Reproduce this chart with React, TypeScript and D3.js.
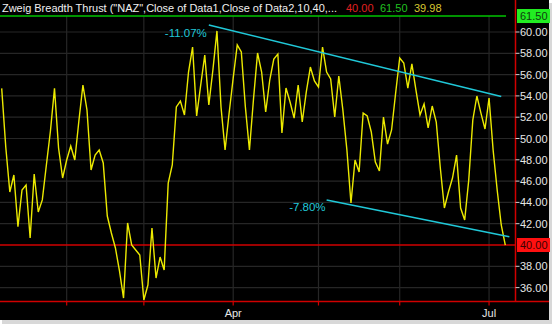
import React from "react";
import * as d3 from "d3";

// Zweig Breadth Thrust daily values (one per trading day)
const values: number[] = [
  54.71, 49.2, 44.98, 46.57, 41.72, 45.16, 45.63, 40.66, 46.67, 43.1,
  44.23, 47.51, 50.7, 54.71, 49.11, 46.29, 47.98, 49.3, 47.98, 51.64,
  55.02, 52.68, 47.04, 48.45, 48.92, 47.7, 42.72, 41.13, 39.72, 37.56,
  35.02, 42.07, 40.0, 39.53, 39.06, 34.84, 36.24, 41.6, 36.9, 38.87,
  37.65, 45.82, 47.51, 52.96, 53.52, 52.21, 56.24, 58.59, 52.11, 55.02,
  57.84, 53.15, 56.43, 60.1, 52.96, 48.92, 52.39, 55.68, 58.78, 58.12,
  52.96, 48.92, 53.71, 58.03, 56.24, 52.49, 55.49, 57.46, 57.93, 50.52,
  54.74, 53.43, 51.92, 55.02, 51.55, 54.37, 56.71, 55.4, 54.84, 58.59,
  56.24, 55.59, 52.02, 55.87, 52.68, 48.92, 43.94, 47.98, 46.85, 52.39,
  52.11, 50.61, 47.79, 46.95, 52.02, 49.48, 50.8, 54.27, 57.56, 57.09,
  54.74, 57.0, 54.55, 52.21, 53.24, 50.99, 53.05, 51.55, 47.23, 43.47,
  44.98, 46.29, 48.45, 43.47, 42.35, 46.1, 51.74, 53.99, 52.39, 50.89,
  53.8, 48.92, 45.16, 41.88, 39.98,
];

const priceTicks: number[] = [60, 58, 56, 54, 52, 50, 48, 46, 44, 42, 38, 36];
const gridLevels: number[] = [60, 58, 56, 54, 52, 50, 48, 46, 44, 42, 38, 36];
const monthTickIndex: number[] = [16, 35, 57, 78, 98, 120];
const monthTickLabel: string[] = ["", "", "Apr", "", "", "Jul"];

const lowerLevel = 40.0;
const upperLevel = 61.5;
const lastValue = 39.98;

// trend lines: [index, value]
const trendUpper: [number, number][] = [[51, 60.66], [123, 53.94]];
const trendLower: [number, number][] = [[80, 44.23], [125, 40.78]];
const trendUpperLabel = "-11.07%";
const trendLowerLabel = "-7.80%";

const titleText = 'Zweig Breadth Thrust ("NAZ",Close of Data1,Close of Data2,10,40,...';

const W = 552;
const H = 324;
const plotRight = 515.5;
const plotBottom = 301.5;

export default function App() {
  const x = d3.scaleLinear().domain([0, values.length - 1]).range([1.7, 505.3]);
  const y = d3.scaleLinear().domain([36, 60]).range([287.6, 32]);

  const line = d3
    .line<number>()
    .x((_, i) => x(i))
    .y((d) => y(d));
  const tline = d3
    .line<[number, number]>()
    .x((d) => x(d[0]))
    .y((d) => y(d[1]));

  const font = "'Liberation Sans', Arial, sans-serif";
  const gridColor = "#262626";

  return (
    <svg
      width={W}
      height={H}
      style={{ position: "absolute", left: 0, top: 0, display: "block" }}
      fontFamily={font}
    >
      <rect x={0} y={0} width={W} height={H} fill="#ffffff" />
      <rect x={2} y={3} width={W - 2} height={H - 3} fill="#d8d8d8" />
      <rect x={0} y={0} width={549} height={320} fill="#000000" />

      {/* horizontal grid */}
      {gridLevels.map((v) => (
        <line key={"g" + v} x1={0} x2={plotRight} y1={y(v)} y2={y(v)} stroke={gridColor} strokeWidth={1.2} />
      ))}
      {/* vertical grid */}
      {monthTickIndex.map((i) => (
        <line key={"v" + i} x1={x(i)} x2={x(i)} y1={16} y2={plotBottom} stroke={gridColor} strokeWidth={1.2} />
      ))}

      {/* level lines */}
      <line x1={0} x2={506} y1={y(upperLevel)} y2={y(upperLevel)} stroke="#00c400" strokeWidth={1.6} />
      <line x1={0} x2={plotRight} y1={y(lowerLevel)} y2={y(lowerLevel)} stroke="#d00000" strokeWidth={1.6} />

      {/* series */}
      <path d={line(values) || ""} fill="none" stroke="#ecea00" strokeWidth={1.4} />

      {/* trend lines */}
      <path d={tline(trendUpper) || ""} stroke="#20c8d8" strokeWidth={1.5} fill="none" />
      <path d={tline(trendLower) || ""} stroke="#20c8d8" strokeWidth={1.5} fill="none" />
      <text x={x(trendUpper[0][0]) - 2} y={y(trendUpper[0][1]) + 12} fill="#20c8d8" fontSize={11.5} textAnchor="end">
        {trendUpperLabel}
      </text>
      <text x={x(trendLower[0][0]) - 1} y={y(trendLower[0][1]) + 11} fill="#20c8d8" fontSize={11.5} textAnchor="end">
        {trendLowerLabel}
      </text>

      {/* frame lines */}
      <line x1={plotRight} x2={plotRight} y1={0} y2={plotBottom} stroke="#d00000" strokeWidth={1.5} />
      <line x1={0} x2={549} y1={plotBottom} y2={plotBottom} stroke="#d00000" strokeWidth={1.5} />

      {/* price axis */}
      {priceTicks.map((v) => (
        <g key={"t" + v}>
          <line x1={plotRight} x2={plotRight + 4} y1={y(v)} y2={y(v)} stroke="#d0d0d0" strokeWidth={1} />
          <text x={520} y={y(v) + 4} fill="#e6e6e6" fontSize={11}>
            {v.toFixed(2)}
          </text>
        </g>
      ))}
      <rect x={517} y={y(upperLevel) - 7} width={33} height={14} fill="#22ee22" />
      <text x={520} y={y(upperLevel) + 4} fill="#104010" fontSize={11}>
        {upperLevel.toFixed(2)}
      </text>
      <rect x={517} y={y(lowerLevel) - 7} width={33} height={14} fill="#ff1010" />
      <text x={520} y={y(lowerLevel) + 4} fill="#400000" fontSize={11}>
        {lowerLevel.toFixed(2)}
      </text>

      {/* date axis */}
      {monthTickIndex.map((i, k) => (
        <g key={"m" + i}>
          <line x1={x(i)} x2={x(i)} y1={plotBottom} y2={plotBottom + 4} stroke="#d00000" strokeWidth={1.2} />
          {monthTickLabel[k] && (
            <text x={x(i)} y={317} fill="#e6e6e6" fontSize={11} textAnchor="middle">
              {monthTickLabel[k]}
            </text>
          )}
        </g>
      ))}

      {/* title */}
      <text x={2} y={12} fill="#f0f0f0" fontSize={11} textLength={335} lengthAdjust="spacingAndGlyphs">
        {titleText}
      </text>
      <text x={346} y={12} fill="#e02020" fontSize={11}>{lowerLevel.toFixed(2)}</text>
      <text x={380} y={12} fill="#20c020" fontSize={11}>{upperLevel.toFixed(2)}</text>
      <text x={414} y={12} fill="#d8c830" fontSize={11}>{lastValue.toFixed(2)}</text>
    </svg>
  );
}
